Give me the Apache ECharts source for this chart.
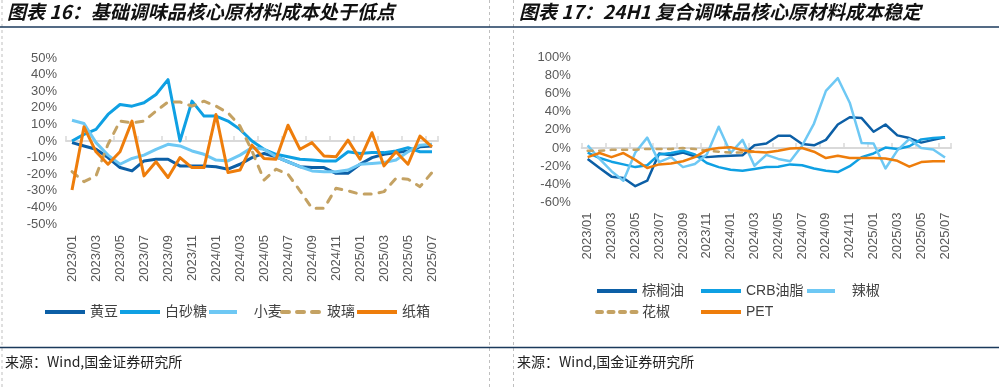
<!DOCTYPE html>
<html>
<head>
<meta charset="utf-8">
<style>
html,body{margin:0;padding:0;background:#fff;}
#c{width:999px;height:387px;}
</style>
<script src="https://cdn.jsdelivr.net/npm/echarts@6.0.0/dist/echarts.min.js"></script>
</head>
<body>
<div id="c"></div>
<script>
// ---------- data ----------
const months = ['2023/01','2023/02','2023/03','2023/04','2023/05','2023/06','2023/07','2023/08','2023/09','2023/10','2023/11','2023/12',
  '2024/01','2024/02','2024/03','2024/04','2024/05','2024/06','2024/07','2024/08','2024/09','2024/10','2024/11','2024/12',
  '2025/01','2025/02','2025/03','2025/04','2025/05','2025/06','2025/07'];

const leftYTicks = [-50, 50, 10];   // min, max, step (%)
const rightYTicks = [-60, 100, 20]; // min, max, step (%)

// left chart (图表16)
const soybean = [-1, -3, -5, -10, -16, -18, -12, -11, -11, -15, -15, -15, -15.5, -17, -14, -10, -7.5, -9.5, -12.5, -15.5, -16, -16, -19.5, -19.5, -14, -10, -8, -7, -6, -3.5, -3];
const sugar   = [0, 4, 7, 16, 22, 21, 23, 28, 37, 0, 24, 15, 15, 12, 7, 0, -5, -8, -9.5, -11, -11.5, -12, -12, -6.5, -7.5, -7, -7, -6, -4, -6.5, -6.5];
const wheat   = [12.5, 10.5, -1, -8.5, -14, -10.5, -8.5, -5, -2, -3, -6, -8, -11.5, -12, -8.5, -4, -5, -9.5, -12.5, -15.5, -18, -18.5, -18.5, -17.5, -14, -13.5, -13, -11.5, -6.5, -2.5, -2];
const glass   = [-18.5, -24.5, -21, -2, 12, 11, 12, 18, 23.5, 23.5, 21, 24, 21, 17, 9, -6, -23.5, -17, -20, -30, -40.5, -40.5, -28.5, -30, -32, -32, -30.5, -22.5, -23, -27.5, -19];
const carton  = [-29.5, 8.5, -6.5, -14, -6.5, 12, -21, -12.5, -22, -10, -16, -16, 16, -19, -17.5, -2.5, -10.5, -11, 9.5, -5, -1, -9, -9.5, 0.5, -11, 5, -15, -6.5, -14, 3, -3.5];

// right chart (图表17)
const palm   = [-12, -22, -31.5, -33, -42, -36, -6, -8, -5, -9, -10, -9, -8.5, -8, 3, 5, 13.5, 13.5, 4.5, 3, 9, 26, 34, 33, 18, 26, 14, 11, 6, 9, 12];
const crb    = [-5, -11, -15, -18, -21, -19, -7, -5.5, -3, -7, -16.5, -21, -24, -25, -23, -21, -20.5, -18, -19, -22.5, -25, -26.5, -20, -10, -6, 0.5, -1, 2, 9.5, 11, 12];
const chili  = [3, -12, -25.5, -36, -5, 11.5, -15.5, -10, -21, -17.5, -7, 23.5, -5.5, 9, -19.5, -7.5, -12, -14.5, 2.5, 27, 63, 77, 50, 5.5, 5, -22.5, -2.5, 10, 0, -1.5, -10.5];
const pepper = [-3, -3, -2, -2, -2, -1, -1, -1, 0, -1, -3, -4, -5, -5, -4, null, null, null, null, null, null, null, null, null, null, null, null, null, null, null, null];
const pet    = [-10, -5.5, -10, -5.5, -13, -22, -18, -17, -14.5, -10, -2, 0, 1, -2.5, -4, -5, -3, -0.5, 0, -4, -11, -8.5, -11, -11, -11, -11.5, -14, -20.5, -15.5, -14.5, -14.5];

const titleLeft = '图表 16：基础调味品核心原材料成本处于低点';
const titleRight = '图表 17：24H1 复合调味品核心原材料成本稳定';
const sourceText = '来源：Wind,国金证券研究所';

// ---------- style ----------
const C = {dark:'#0c5fa6', mid:'#0fa0e3', light:'#6ec8f4', tan:'#c4a263', orange:'#ee7d0b'};
const FONT = '"Liberation Sans", Arial, "Noto Sans CJK SC", sans-serif';
const CJK = '"Liberation Sans", "Noto Sans CJK SC", sans-serif';
const navy = '#1b3a5c';

function xAxes(gridIndex, margin) {
  return [
    { type:'category', gridIndex, data:months, position:'bottom', boundaryGap:true,
      axisLine:{show:false, onZero:false}, axisTick:{show:false},
      axisLabel:{rotate:90, interval:1, fontSize:13, color:'#595959', fontFamily:FONT, margin} },
    { type:'category', gridIndex, data:months, position:'top', boundaryGap:true,
      axisLine:{show:true, onZero:true, lineStyle:{color:'#d9d9d9', width:2}},
      axisTick:{show:true, interval:1, length:5, lineStyle:{color:'#d9d9d9', width:1.5}},
      axisLabel:{show:false} }
  ];
}
function yAxis(gridIndex, t, margin) {
  return { type:'value', gridIndex, min:t[0], max:t[1], interval:t[2],
    axisLine:{show:false}, axisTick:{show:false}, splitLine:{show:false},
    axisLabel:{formatter:'{value}%', fontSize:13, color:'#595959', fontFamily:FONT, margin} };
}
function line(name, data, color, xi, yi, w, dash) {
  return { name, type:'line', data, xAxisIndex:xi, yAxisIndex:yi, symbol:'none', showSymbol:false,
    connectNulls:false, animation:false,
    lineStyle:{color, width:w, type: dash || 'solid', cap: dash ? 'round' : 'butt', join:'round'},
    itemStyle:{color} };
}
function lg(name, x, y, w, pad) {
  return { data:[name], left:x, top:y-7, padding:0, itemWidth:w, itemHeight:14, itemGap:0,
    formatter: pad ? '   {name}' : '{name}', selectedMode:false,
    lineStyle:{width:4},
    itemStyle:{opacity:0},
    textStyle:{fontSize:14, color:'#404040', fontFamily:CJK, lineHeight:14} };
}

const option = {
  animation:false,
  grid:[
    {left:66, top:58, width:372, height:166},
    {left:581.7, top:57.3, width:369.3, height:145.2}
  ],
  xAxis:[...xAxes(0, 11), ...xAxes(1, 10)],
  yAxis:[yAxis(0, leftYTicks, 9), yAxis(1, rightYTicks, 11)],
  legend:[
    lg('黄豆', 43, 312, 40), lg('白砂糖', 118, 312, 40), lg('小麦', 207, 312, 28, true),
    lg('玻璃', 280, 312, 40), lg('纸箱', 355, 312, 40),
    lg('棕榈油', 595, 291, 40), lg('CRB油脂', 699, 291, 40), lg('辣椒', 805, 291, 28, true),
    lg('花椒', 595, 312, 40), lg('PET', 699, 312, 40)
  ],
  series:[
    line('黄豆', soybean, C.dark, 0, 0, 3),
    line('白砂糖', sugar, C.mid, 0, 0, 3),
    line('小麦', wheat, C.light, 0, 0, 3),
    line('玻璃', glass, C.tan, 0, 0, 3, [7, 8]),
    line('纸箱', carton, C.orange, 0, 0, 3),
    line('棕榈油', palm, C.dark, 2, 1, 2.5),
    line('CRB油脂', crb, C.mid, 2, 1, 2.5),
    line('辣椒', chili, C.light, 2, 1, 2.5),
    line('花椒', pepper, C.tan, 2, 1, 2.5, [5, 6.5]),
    line('PET', pet, C.orange, 2, 1, 2.5)
  ],
  graphic:[
    {type:'line', silent:true, shape:{x1:2, y1:0, x2:2, y2:387}, style:{stroke:'#bfbfbf', lineWidth:1, lineDash:[3,3]}},
    {type:'line', silent:true, shape:{x1:489.5, y1:0, x2:489.5, y2:387}, style:{stroke:'#bfbfbf', lineWidth:1, lineDash:[3,3]}},
    {type:'line', silent:true, shape:{x1:513.5, y1:0, x2:513.5, y2:387}, style:{stroke:'#bfbfbf', lineWidth:1, lineDash:[3,3]}},
    {type:'line', silent:true, shape:{x1:0, y1:27, x2:999, y2:27}, style:{stroke:navy, lineWidth:1.5}},
    {type:'line', silent:true, shape:{x1:0, y1:347.5, x2:999, y2:347.5}, style:{stroke:navy, lineWidth:1.5}},
    {type:'text', silent:true, style:{text:titleLeft, x:7, y:12, fill:'#111', font:'italic bold 19px "Noto Sans CJK SC", sans-serif', verticalAlign:'middle', textVerticalAlign:'middle'}},
    {type:'text', silent:true, style:{text:titleRight, x:519, y:12, fill:'#111', font:'italic bold 19px "Noto Sans CJK SC", sans-serif', verticalAlign:'middle', textVerticalAlign:'middle'}},
    {type:'text', silent:true, style:{text:sourceText, x:5, y:362, fill:'#222', font:'14px "Noto Sans CJK SC", sans-serif', verticalAlign:'middle', textVerticalAlign:'middle'}},
    {type:'text', silent:true, style:{text:sourceText, x:517, y:362, fill:'#222', font:'14px "Noto Sans CJK SC", sans-serif', verticalAlign:'middle', textVerticalAlign:'middle'}}
  ]
};

const chart = echarts.init(document.getElementById('c'), null, {renderer:'canvas', width:999, height:387});
chart.setOption(option);
</script>
</body>
</html>
